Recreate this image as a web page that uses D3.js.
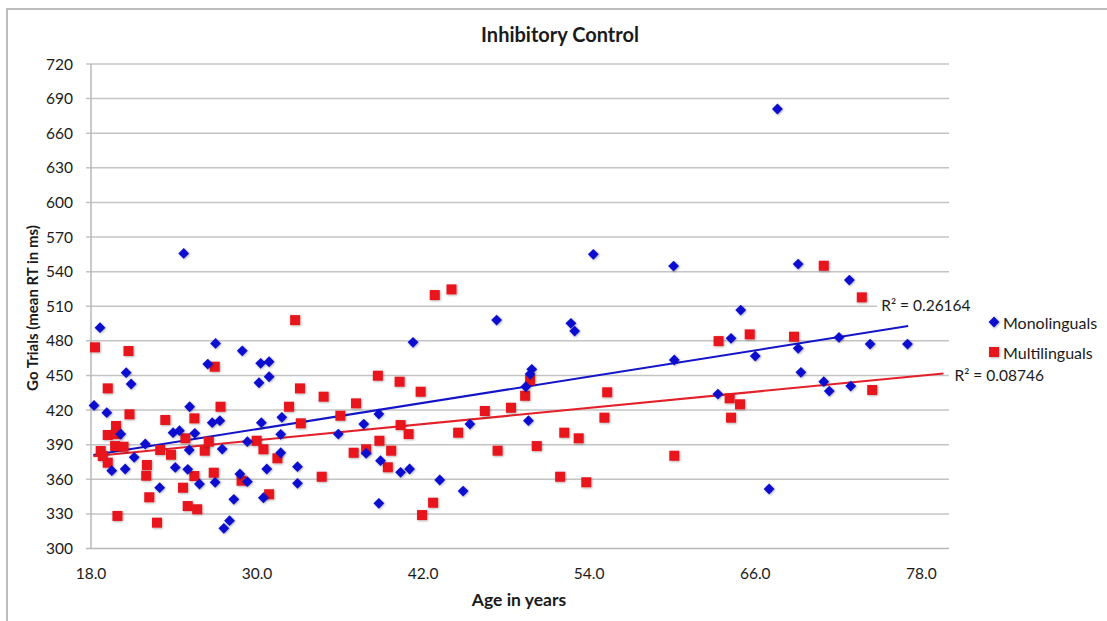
<!DOCTYPE html>
<meta charset="utf-8">
<script src="https://cdn.jsdelivr.net/npm/d3@7"></script>
<style>
body{margin: 0; background: #fff;}
text {font-family: Lato, "Open Sans", sans-serif; fill: #1a1a1a;}
.tick-label {font-size: 15.5px;}
.grid {stroke: #c4c4c4; stroke-width: 1.5;}
.axis-line {stroke: #b8b8b8; stroke-width: 1.5;}
.title {font-size: 20px; font-weight: bold; text-anchor: middle;}
.axis-title {font-size: 15px; font-weight: bold; text-anchor: middle;}
.x-title {font-size: 17.5px;}
.legend-label {font-size: 16px;}
.r2 {font-size: 15.5px;}
</style>

<div id="vis"></div>

<script>

// Monolinguals (age, mean RT)
var monoAge = [24.7, 18.65, 27.0, 28.93, 26.44, 30.26, 30.87, 20.54, 20.9, 30.14,
  30.87, 18.22, 19.14, 25.13, 26.76, 27.31, 30.31, 31.79, 23.93, 24.39,
  25.5, 20.15, 21.92, 29.3, 25.1, 27.48, 31.71, 31.71, 21.12, 19.5,
  20.47, 24.09, 24.99, 30.7, 32.92, 22.96, 25.84, 26.97, 28.76, 29.3,
  32.92, 28.32, 30.46, 28.01, 27.6, 47.31, 41.27, 35.87, 37.71, 38.8,
  37.88, 38.92, 40.37, 41.02, 43.2, 44.89, 38.8, 45.38, 54.3, 60.1,
  52.68, 52.95, 49.85, 49.73, 49.42, 49.61, 60.15, 67.6, 69.1, 72.8,
  64.95, 64.25, 66.0, 69.1, 72.05, 74.3, 77.0, 69.3, 70.95, 71.35,
  72.9, 63.3, 67.0];
var monoRT = [555.8, 491.4, 477.8, 471.4, 459.9, 460.5, 461.9, 452.4, 442.6, 443.7,
  448.9, 424.0, 417.7, 422.9, 409.1, 410.8, 409.1, 413.7, 400.4, 402.1,
  399.8, 399.2, 390.6, 392.6, 385.4, 386.2, 399.0, 383.0, 379.0, 367.5,
  368.9, 370.3, 368.6, 368.9, 370.9, 352.7, 355.9, 357.4, 364.6, 357.9,
  356.5, 342.6, 344.0, 324.1, 317.5, 498.0, 478.7, 399.2, 407.9, 416.6,
  382.5, 376.1, 366.0, 368.9, 359.4, 349.8, 339.2, 407.9, 555.0, 544.8,
  495.2, 488.5, 455.3, 451.2, 440.2, 410.8, 463.4, 681.0, 546.6, 532.7,
  506.7, 482.2, 466.8, 473.5, 483.0, 477.2, 477.2, 452.7, 444.6, 436.5,
  440.8, 433.9, 351.6];

// Multilinguals (age, mean RT)
var multiAge = [18.29, 20.71, 32.75, 26.94, 19.21, 20.78, 27.36, 32.31, 33.1, 19.81,
  19.21, 19.86, 23.37, 25.47, 19.74, 20.35, 18.7, 18.85, 19.21, 23.0,
  23.78, 24.82, 26.22, 26.51, 22.04, 21.99, 25.47, 26.87, 24.65, 22.21,
  24.99, 25.67, 19.91, 22.77, 29.97, 30.46, 31.47, 28.88, 30.87, 42.84,
  44.05, 38.73, 40.3, 41.82, 34.81, 37.15, 33.16, 36.02, 40.37, 40.95,
  38.84, 36.98, 37.88, 39.69, 39.45, 34.67, 42.72, 41.92, 44.53, 46.46,
  47.38, 49.73, 49.37, 48.35, 55.3, 55.1, 52.2, 53.24, 50.21, 51.9,
  53.79, 60.15, 70.95, 73.7, 63.35, 65.6, 68.8, 64.15, 64.9, 64.25,
  74.45];
var multiRT = [474.4, 471.2, 498.0, 457.6, 438.8, 416.3, 422.9, 422.9, 438.8, 406.2,
  398.4, 399.2, 411.4, 412.8, 388.8, 388.2, 384.5, 380.2, 374.4, 385.4,
  381.3, 395.5, 384.8, 392.6, 372.4, 363.1, 362.8, 365.7, 352.7, 344.4,
  336.8, 334.0, 328.2, 322.4, 393.4, 386.0, 378.2, 358.8, 347.0, 519.7,
  524.6, 449.8, 444.6, 435.9, 431.6, 425.8, 408.5, 415.1, 407.0, 399.2,
  393.4, 383.0, 386.0, 384.8, 370.4, 362.2, 339.7, 329.0, 400.4, 419.2,
  384.8, 446.0, 432.4, 422.0, 435.4, 413.4, 400.4, 395.5, 388.8, 362.2,
  357.4, 380.4, 545.1, 517.7, 479.8, 485.6, 483.6, 430.2, 425.0, 413.4,
  437.4];

// Linear trend lines (end points) and their R² labels
var monoTrendAge = [18.17, 77.05];
var monoTrendRT = [381.0, 492.8];
var multiTrendAge = [18.17, 79.6];
var multiTrendRT = [380.0, 451.8];
var r2Labels = ["R² = 0.26164", "R² = 0.08746"];

var xTicks = [18, 30, 42, 54, 66, 78];
var yTicks = [300, 330, 360, 390, 420, 450, 480, 510, 540, 570, 600, 630, 660, 690, 720];
var seriesNames = ["Monolinguals", "Multilinguals"];

var blue = "#0a0fd0", red = "#e8161c";

var w = 1107, h = 621;
var margin = {top: 64, right: 158, bottom: 72.5, left: 91};
var width = w - margin.left - margin.right,
    height = h - margin.top - margin.bottom;

var svg = d3.select("#vis").append("svg")
    .attr("width", w)
    .attr("height", h);

// soft shadow like the spreadsheet markers
var defs = svg.append("defs");
var f = defs.append("filter").attr("id", "shadow")
    .attr("x", "-50%").attr("y", "-50%").attr("width", "200%").attr("height", "200%");
f.append("feDropShadow").attr("dx", 0.8).attr("dy", 0.8)
    .attr("stdDeviation", 0.9).attr("flood-color", "#000").attr("flood-opacity", 0.35);

// chart frame
svg.append("rect")
    .attr("x", 7).attr("y", 9)
    .attr("width", 1200).attr("height", 700)
    .attr("fill", "none")
    .attr("stroke", "#bdbdbd")
    .attr("stroke-width", 2);

var g = svg.append("g")
    .attr("transform", "translate(" + margin.left + "," + margin.top + ")");

var x = d3.scaleLinear().domain([18, 80]).range([0, width]);
var y = d3.scaleLinear().domain([300, 720]).range([height, 0]);

// gridlines
g.selectAll(".grid")
    .data(yTicks.slice(1))
  .enter().append("line")
    .attr("class", "grid")
    .attr("x1", -5).attr("x2", width)
    .attr("y1", function(d) { return y(d); })
    .attr("y2", function(d) { return y(d); });

// axes
g.append("line").attr("class", "axis-line")
    .attr("x1", 0).attr("x2", 0).attr("y1", 0).attr("y2", height);
g.append("line").attr("class", "axis-line")
    .attr("x1", -5).attr("x2", width).attr("y1", height).attr("y2", height);

g.selectAll(".y-label")
    .data(yTicks)
  .enter().append("text")
    .attr("class", "tick-label")
    .attr("text-anchor", "end")
    .attr("x", -18)
    .attr("y", function(d) { return y(d); })
    .attr("dy", "0.36em")
    .text(function(d) { return d; });

g.selectAll(".x-label")
    .data(xTicks)
  .enter().append("text")
    .attr("class", "tick-label")
    .attr("text-anchor", "middle")
    .attr("x", function(d) { return x(d); })
    .attr("y", height + 30)
    .text(function(d) { return d3.format(".1f")(d); });

// trend lines
var line = d3.line()
    .x(function(d) { return x(d[0]); })
    .y(function(d) { return y(d[1]); });

g.append("path")
    .datum(d3.zip(monoTrendAge, monoTrendRT))
    .attr("d", line)
    .attr("fill", "none")
    .attr("stroke", "#1414c8")
    .attr("stroke-width", 2);

g.append("path")
    .datum(d3.zip(multiTrendAge, multiTrendRT))
    .attr("d", line)
    .attr("fill", "none")
    .attr("stroke", "#e4202a")
    .attr("stroke-width", 2);

// markers
var diamond = "M0,-5.4L5.4,0L0,5.4L-5.4,0Z";

g.selectAll(".multi")
    .data(d3.zip(multiAge, multiRT))
  .enter().append("rect")
    .attr("class", "multi")
    .attr("x", function(d) { return x(d[0]) - 5; })
    .attr("y", function(d) { return y(d[1]) - 5; })
    .attr("width", 10).attr("height", 10)
    .attr("fill", red)
    .attr("filter", "url(#shadow)");

g.selectAll(".mono")
    .data(d3.zip(monoAge, monoRT))
  .enter().append("path")
    .attr("class", "mono")
    .attr("d", diamond)
    .attr("transform", function(d) { return "translate(" + x(d[0]) + "," + y(d[1]) + ")"; })
    .attr("fill", blue)
    .attr("filter", "url(#shadow)");

// R² labels, on white so the gridline stops at them
var r2Pos = [[monoTrendAge[1], monoTrendRT[1]], [multiTrendAge[1], multiTrendRT[1]]];
var r2 = g.selectAll(".r2g")
    .data(r2Labels)
  .enter().append("g")
    .attr("transform", function(d, i) {
      return i == 0
        ? "translate(" + (x(r2Pos[0][0]) - 27) + "," + (y(r2Pos[0][1]) - 21) + ")"
        : "translate(" + (x(r2Pos[1][0]) + 11) + "," + (y(r2Pos[1][1]) + 2) + ")";
    });
r2.append("rect")
    .attr("x", -4).attr("y", -9).attr("width", 96).attr("height", 18)
    .attr("fill", "#fff");
r2.append("text")
    .attr("class", "r2")
    .attr("dy", "0.36em")
    .text(function(d) { return d; });

// titles
svg.append("text").attr("class", "title")
    .attr("x", 560).attr("y", 42)
    .text("Inhibitory Control");

svg.append("text").attr("class", "axis-title x-title")
    .attr("x", 519).attr("y", 606)
    .text("Age in years");

svg.append("text").attr("class", "axis-title")
    .attr("transform", "translate(38,308) rotate(-90)")
    .text("Go Trials (mean RT in ms)");

// legend
var legend = svg.append("g").attr("transform", "translate(994,322)");
legend.append("path").attr("d", diamond).attr("fill", blue).attr("filter", "url(#shadow)");
legend.append("rect").attr("x", -5).attr("y", 25).attr("width", 10).attr("height", 10)
    .attr("fill", red).attr("filter", "url(#shadow)");
legend.selectAll(".legend-label")
    .data(seriesNames)
  .enter().append("text")
    .attr("class", "legend-label")
    .attr("x", 9)
    .attr("y", function(d, i) { return i * 30 + 1; })
    .attr("dy", "0.36em")
    .text(function(d) { return d; });

</script>
